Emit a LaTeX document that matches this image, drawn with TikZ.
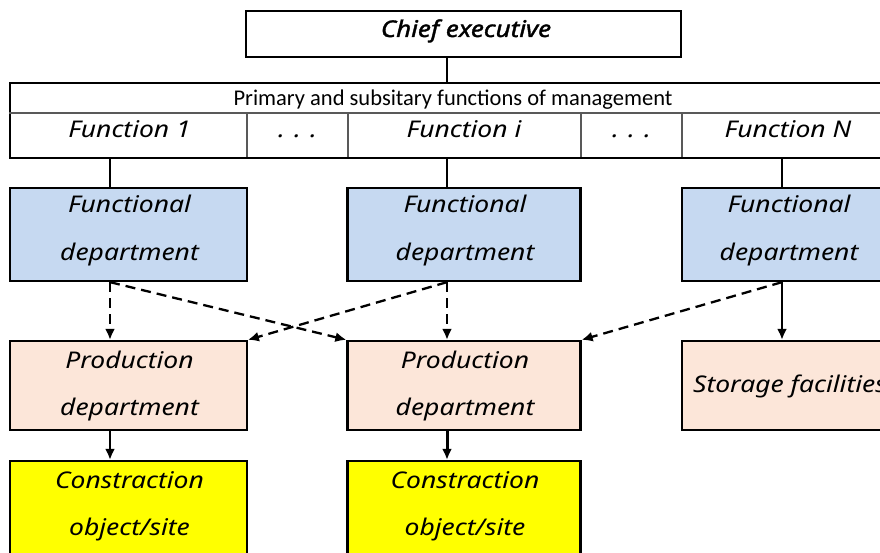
\documentclass[tikz,border=0pt]{standalone}
\usepackage{fontspec}
\setmainfont{Carlito}
\newfontfamily\hand[FakeStretch=1.15]{Noto Sans}
\newfontfamily\handbold[FakeStretch=1.13,FakeBold=1.6]{Noto Sans}
\usetikzlibrary{arrows.meta,calc}
\definecolor{fdblue}{HTML}{C6D9F1}
\definecolor{pdpeach}{HTML}{FCE6D9}
\definecolor{siteyellow}{HTML}{FFFF00}
\begin{document}
\begin{tikzpicture}[x=1pt,y=-1pt,
  box/.style={draw=black,line width=2.3pt,inner sep=0pt,anchor=center},
  fdbox/.style={box,fill=fdblue,minimum height=93pt},
  pdbox/.style={box,fill=pdpeach,minimum height=89pt},
  sitebox/.style={box,fill=siteyellow,minimum height=94pt},
  hw/.style={anchor=base,inner sep=0pt,font=\hand\itshape\fontsize{23}{27}\selectfont},
  plain/.style={anchor=base,inner sep=0pt,font=\fontsize{22.5}{27}\selectfont},
  cell/.style={draw=black!65,line width=1.2pt},
  link/.style={draw=black,line width=2.3pt},
  arr/.style={link,-{Latex[length=11pt,width=10pt]}},
  dasharr/.style={arr,dash pattern=on 10pt off 6pt}]
\useasboundingbox (0,0) rectangle (880,553);
\clip (0,0) rectangle (880,553);

% column ports used by the vertical links
\coordinate (p1) at (110,0);
\coordinate (p2) at (447,0);
\coordinate (p3) at (782,0);

% chief executive
\node[box,minimum width=435pt,minimum height=46pt] (chief) at (463.5,34) {};
\node[hw,font=\handbold\itshape\fontsize{23}{27}\selectfont] (chiefT) at (466,37) {Chief executive};

% management functions table
\node[box,minimum width=884pt,minimum height=75pt] (tbl) at (452,120.5) {};
\draw[cell] (tbl.west |- 0,113) -- (tbl.east |- 0,113);
\foreach \cx in {247,348,581,682}
  \draw[cell] (\cx,113) -- (\cx,157);
\node[plain] (mgmt) at (453,106) {Primary and subsitary functions of management};
\node[hw] (f1) at (129.5,137.5) {Function 1};
\node[hw] (d1) at (297.5,137.5) {. . .};
\node[hw] (fi) at (464,137.5) {Function i};
\node[hw] (d2) at (631.5,137.5) {. . .};
\node[hw] (fn) at (788,137.5) {Function N};

% functional departments
\node[fdbox,minimum width=236.5pt] (fd1) at (128.5,234.5) {};
\node[fdbox,minimum width=233pt] (fd2) at (464,234.5) {};
\node[fdbox,minimum width=212pt] (fd3) at (788,234.5) {};
\foreach \n/\cx in {1/129.5,2/465,3/789}{
  \node[hw] (fdA\n) at (\cx,213) {Functional};
  \node[hw] (fdB\n) at (\cx,260) {department};
}

% production departments and storage
\node[pdbox,minimum width=236.5pt] (pd1) at (128.5,385.5) {};
\node[pdbox,minimum width=233pt] (pd2) at (464,385.5) {};
\node[pdbox,minimum width=212pt] (st) at (788,385.5) {};
\foreach \n/\cx in {1/129.5,2/465}{
  \node[hw] (pdA\n) at (\cx,368) {Production};
  \node[hw] (pdB\n) at (\cx,415) {department};
}
\node[hw,anchor=base west] (stT) at (693,392) {Storage facilities};

% construction sites
\node[sitebox,minimum width=236.5pt] (cs1) at (128.5,508) {};
\node[sitebox,minimum width=233pt] (cs2) at (464,508) {};
\foreach \n/\cx in {1/129.5,2/465}{
  \node[hw] (csA\n) at (\cx,488) {Constraction};
  \node[hw] (csB\n) at (\cx,535) {object/site};
}

% links
\draw[link] (chief.south -| p2) -- (tbl.north -| p2);
\draw[link] (tbl.south -| p1) -- (fd1.north -| p1);
\draw[link] (tbl.south -| p2) -- (fd2.north -| p2);
\draw[link] (tbl.south -| p3) -- (fd3.north -| p3);

\draw[dasharr] (fd1.south -| p1) -- (pd1.north -| p1);
\draw[dasharr] (fd1.south -| p1) -- (pd2.north west);
\draw[dasharr] (fd2.south -| p2) -- (pd1.north east);
\draw[dasharr] (fd2.south -| p2) -- (pd2.north -| p2);
\draw[dasharr] (fd3.south -| p3) -- (pd2.north east);
\draw[arr] (fd3.south -| p3) -- (st.north -| p3);

\draw[arr] (pd1.south -| p1) -- (cs1.north -| p1);
\draw[arr,line width=3pt] (pd2.south -| p2) -- (cs2.north -| p2);
\end{tikzpicture}
\end{document}
